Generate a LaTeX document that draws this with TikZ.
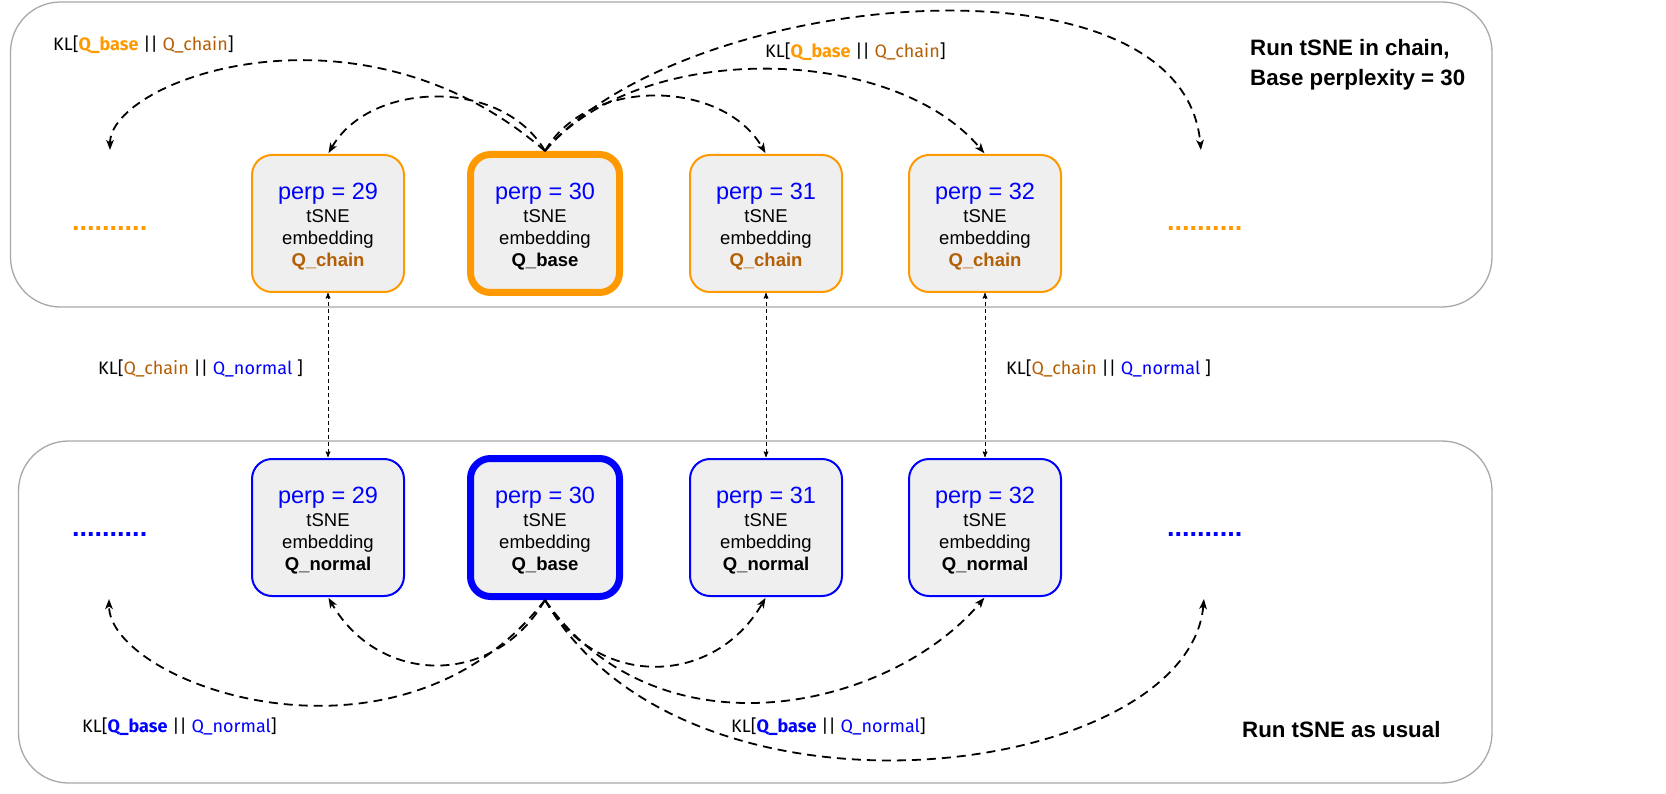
\documentclass[tikz,border=0pt]{standalone}
\usepackage{fontspec}
\setmainfont{Liberation Sans}
\newfontfamily\klfont{Fira Sans}
\usepackage{tikz}
\usetikzlibrary{arrows,arrows.meta}

\definecolor{chainorange}{HTML}{FF9900}
\definecolor{chainbrown}{HTML}{B45F06}
\definecolor{normalblue}{HTML}{0000FF}
\definecolor{boxgray}{HTML}{EFEFEF}
\definecolor{framegray}{HTML}{A8A8A8}

\newcommand{\embtext}[2]{{\color{normalblue}\fontsize{23.5}{25}\selectfont
  \rule{0pt}{23.5pt}perp = #1}\\ tSNE\\ embedding\\ #2}
\newcommand{\qchain}{\textbf{\color{chainbrown}Q\_chain}}
\newcommand{\qnormal}{\textbf{Q\_normal}}

\begin{document}
\begin{tikzpicture}[x=1pt,y=1pt,>=stealth',shorten >=1pt]
  \tikzstyle{embbox}=[draw,fill=boxgray,rounded corners=20pt,align=center,
                      font=\fontsize{18.5}{22.3}\selectfont,line width=2pt,
                      minimum width=152pt,minimum height=137pt,inner sep=2pt]
  \tikzstyle{chainbox}=[embbox,draw=chainorange]
  \tikzstyle{normalbox}=[embbox,draw=normalblue]
  \tikzstyle{basebox}=[line width=7pt,minimum width=149pt,minimum height=138pt]
  \tikzstyle{frameline}=[draw=framegray,line width=1.3pt,rounded corners=50pt]
  \tikzstyle{klarrow}=[-{Stealth[length=10pt,width=7.5pt,inset=2.5pt]},draw,
                       dash pattern=on 9pt off 6pt,line width=1.8pt]
  \tikzstyle{crossarrow}=[<->,draw,dash pattern=on 4pt off 3pt,line width=1pt]
  \tikzstyle{klabel}=[anchor=west,inner sep=0pt,font=\klfont\fontsize{18}{22}\selectfont]
  \tikzstyle{headline}=[anchor=west,align=left,inner sep=0pt,
                        font=\bfseries\fontsize{22.3}{30}\selectfont]
  \tikzstyle{dotrow}=[anchor=base west,inner sep=0pt,font=\bfseries\fontsize{27}{27}\selectfont]

  \useasboundingbox (0,0) rectangle (1666,-794);

  % the two runs
  \draw[frameline] (10.5,-2) rectangle (1492,-307);
  \draw[frameline] (18.5,-441) rectangle (1492,-783);

  % chained run
  \node[chainbox]         (c29) at (328,-223.5) {\embtext{29}{\qchain}};
  \node[chainbox,basebox] (c30) at (545,-223.5) {\embtext{30}{\textbf{Q\_base}}};
  \node[chainbox]         (c31) at (766,-223.5) {\embtext{31}{\qchain}};
  \node[chainbox]         (c32) at (985,-223.5) {\embtext{32}{\qchain}};

  % usual run
  \node[normalbox]         (n29) at (328,-527.5) {\embtext{29}{\qnormal}};
  \node[normalbox,basebox] (n30) at (545,-527.5) {\embtext{30}{\textbf{Q\_base}}};
  \node[normalbox]         (n31) at (766,-527.5) {\embtext{31}{\qnormal}};
  \node[normalbox]         (n32) at (985,-527.5) {\embtext{32}{\qnormal}};

  \node[dotrow,text=chainorange] (ctl) at (72,-231)   {..........};
  \node[dotrow,text=chainorange] (ctr) at (1167,-231) {..........};
  \node[dotrow,text=normalblue]  (ntl) at (72,-536)   {..........};
  \node[dotrow,text=normalblue]  (ntr) at (1167,-536) {..........};

  \coordinate (tl) at (110,-151);
  \coordinate (tr) at (1201,-151);
  \coordinate (bl) at (109,-598);
  \coordinate (br) at (1204,-598);

  \path (c30.north) edge[klarrow,out=139,in=90,out looseness=1.45,in looseness=0.42] (tl)
        (c30.north) edge[klarrow,out=120,in=60] (c29.north)
        (c30.north) edge[klarrow,out=60,in=120] (c31.north)
        (c30.north) edge[klarrow,out=50,in=130,looseness=0.84] (c32.north)
        (c30.north) edge[klarrow,out=50,in=95,looseness=0.82] (tr);

  \path (n30.south) edge[klarrow,out=-128,in=-90,out looseness=1.4,in looseness=0.5] (bl)
        (n30.south) edge[klarrow,out=-120,in=-60,looseness=1.2] (n29.south)
        (n30.south) edge[klarrow,out=-60,in=-120,looseness=1.2] (n31.south)
        (n30.south) edge[klarrow,out=-55,in=-130,out looseness=1.15,in looseness=0.85] (n32.south)
        (n30.south) edge[klarrow,out=-60,in=-95,out looseness=1.1,in looseness=0.7] (br);

  \path (c29.south) edge[crossarrow] (n29.north)
        (c31.south) edge[crossarrow] (n31.north)
        (c32.south) edge[crossarrow] (n32.north);

  % labels
  \node[klabel] (kltl) at (53,-45)
    {KL[{\bfseries\color{chainorange}Q\_base} || {\color{chainbrown}Q\_chain}]};
  \node[klabel] (kltm) at (765,-52)
    {KL[{\bfseries\color{chainorange}Q\_base} || {\color{chainbrown}Q\_chain}]};
  \node[klabel] (klml) at (98,-368)
    {KL[{\color{chainbrown}Q\_chain} || {\color{normalblue}Q\_normal} ]};
  \node[klabel] (klmr) at (1006,-368)
    {KL[{\color{chainbrown}Q\_chain} || {\color{normalblue}Q\_normal} ]};
  \node[klabel] (klbl) at (82,-727)
    {KL[{\bfseries\color{normalblue}Q\_base} || {\color{normalblue}Q\_normal}]};
  \node[klabel] (klbm) at (731,-727)
    {KL[{\bfseries\color{normalblue}Q\_base} || {\color{normalblue}Q\_normal}]};

  \node[headline] (hchain) at (1250,-65) {Run tSNE in chain,\\Base perplexity = 30};
  \node[headline] (husual) at (1242,-730) {Run tSNE as usual};

\end{tikzpicture}
\end{document}
